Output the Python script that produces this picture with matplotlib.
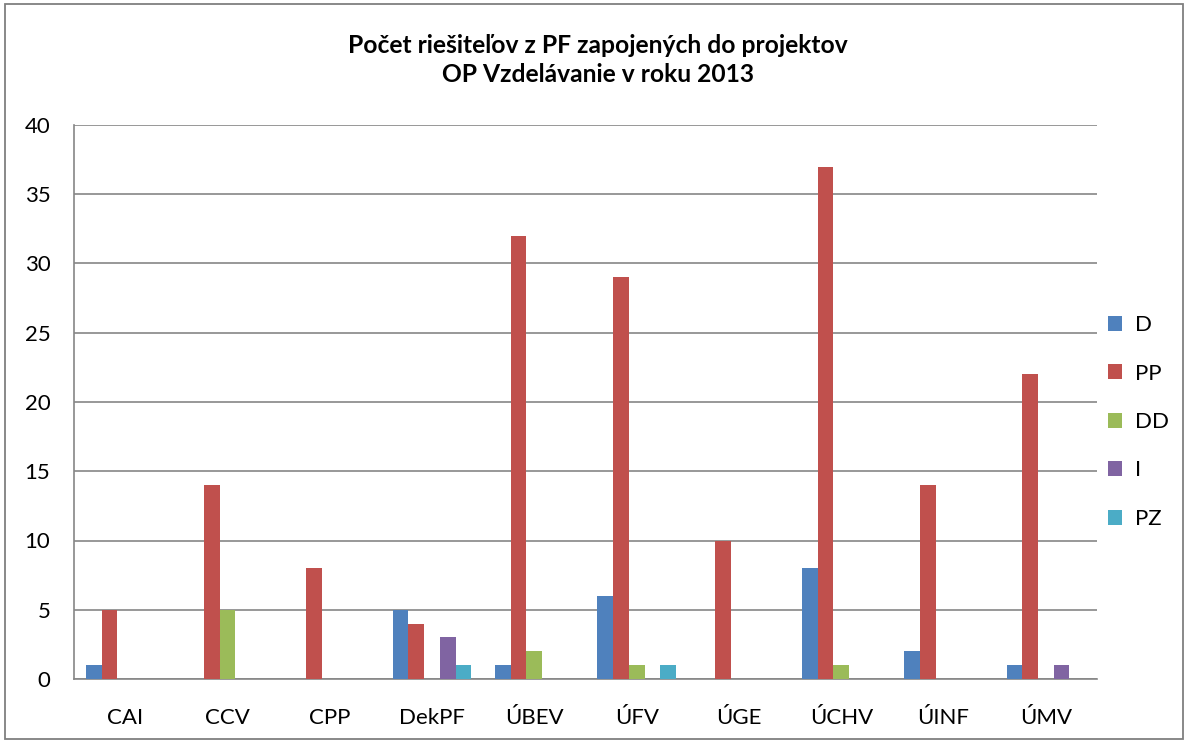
import matplotlib
matplotlib.use("Agg")
import matplotlib.pyplot as plt
import numpy as np
from matplotlib.patches import Rectangle

categories = ["CAI", "CCV", "CPP", "DekPF", "ÚBEV", "ÚFV", "ÚGE", "ÚCHV", "ÚINF", "ÚMV"]
series_names = ["D", "PP", "DD", "I", "PZ"]
D  = [1, 0, 0, 5, 1, 6, 0, 8, 2, 1]
PP = [5, 14, 8, 4, 32, 29, 10, 37, 14, 22]
DD = [0, 5, 0, 0, 2, 1, 0, 1, 0, 0]
I  = [0, 0, 0, 3, 0, 0, 0, 0, 0, 1]
PZ = [0, 0, 0, 1, 0, 1, 0, 0, 0, 0]
colors = ["#4F81BD", "#C0504D", "#9BBB59", "#8064A2", "#4BACC6"]
title = "Počet riešiteľov z PF zapojených do projektov\nOP Vzdelávanie v roku 2013"

plt.rcParams['font.family'] = ['Lato', 'DejaVu Sans']

fig = plt.figure(figsize=(11.86, 7.42), dpi=100)
ax = fig.add_axes([74/1186, 1-679/742, (1097-74)/1186, (679-125)/742])

x = np.arange(len(categories))
w = 1/6.5
data = [D, PP, DD, I, PZ]
for i, (name, vals) in enumerate(zip(series_names, data)):
    ax.bar(x - 2.5*w + (i+0.5)*w, vals, width=w, color=colors[i], label=name, zorder=3)

ax.set_xlim(-0.5, len(categories)-0.5)
ax.set_ylim(0, 40)
ax.set_yticks(range(0, 41, 5))
ax.set_xticks(x)
ax.set_xticklabels(categories)
ax.tick_params(axis='both', labelsize=16, length=0, colors='black')
ax.tick_params(axis='x', pad=21)
ax.tick_params(axis='y', pad=17)
ax.yaxis.grid(True, color='#868686', linewidth=1.2, zorder=0)
for s in ['top', 'right']:
    ax.spines[s].set_visible(False)
for s in ['left', 'bottom']:
    ax.spines[s].set_color('#868686')
    ax.spines[s].set_linewidth(1.2)

fig.text(598/1186, 1-60/742, title, ha='center', va='center', fontsize=17.7,
         fontweight='bold', linespacing=1.3)

leg = fig.legend(loc='center left', bbox_to_anchor=(1088/1186, 1-422/742), frameon=False,
                 fontsize=16, handlelength=0.65, handleheight=0.65, labelspacing=1.28,
                 handletextpad=0.55)

fig.patches.append(Rectangle((4.5/1186, 3.5/742), 1178/1186, 735/742, transform=fig.transFigure,
                             fill=False, edgecolor='#7F7F7F', linewidth=1.3))

fig.savefig("out.png", dpi=100)
